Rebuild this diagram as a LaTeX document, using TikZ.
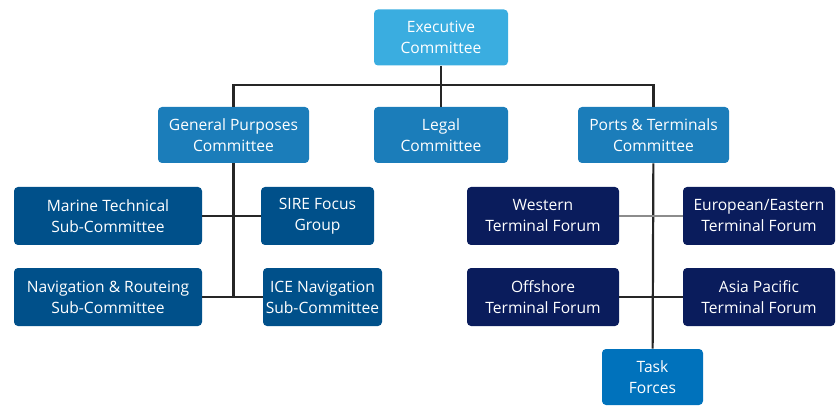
\documentclass[tikz,border=0pt]{standalone}
\usepackage{fontspec}
\setmainfont{Open Sans}
\definecolor{EXlight}{HTML}{3AADE0}
\definecolor{CMmid}{HTML}{1B7DBA}
\definecolor{SCdark}{HTML}{00508A}
\definecolor{TFnavy}{HTML}{0A1C5C}
\definecolor{TKblue}{HTML}{0072BC}
\usetikzlibrary{positioning}

\begin{document}
\begin{tikzpicture}[x=0.5pt,y=-0.5pt,
    box/.style={rounded corners=2pt,text=white,align=center,inner sep=0pt,
      font=\fontsize{7.8}{10.5}\selectfont,minimum height=28pt},
    link/.style={line width=1.1pt,draw=black!85}]
  \useasboundingbox (0,0) rectangle (840,406);
  \node[box,fill=EXlight,minimum width=67pt] (exec) at (441,37.5) {Executive\\Committee};
  \node[box,fill=CMmid,minimum width=75.5pt] (gp) at (233.5,135) {General Purposes\\Committee};
  \node[box,fill=CMmid,minimum width=67pt] (legal) at (441,135) {Legal\\Committee};
  \node[box,fill=CMmid,minimum width=75.5pt] (ports) at (653.5,135) {Ports \& Terminals\\Committee};
  \node[box,fill=SCdark,minimum width=94pt,minimum height=29pt] (marine) at (108,216) {Marine Technical\\Sub-Committee};
  \node[box,fill=SCdark,minimum width=56.5pt,minimum height=29pt] (sire) at (317.5,216) {SIRE Focus\\Group};
  \node[box,fill=SCdark,minimum width=94pt,minimum height=29pt] (navr) at (108,297) {Navigation \& Routeing\\Sub-Committee};
  \node[box,fill=SCdark,minimum width=59.5pt,minimum height=29pt] (ice) at (322.5,297) {ICE Navigation\\Sub-Committee};
  \node[box,fill=TFnavy,minimum width=76pt,minimum height=29pt] (western) at (543,216) {Western\\Terminal Forum};
  \node[box,fill=TFnavy,minimum width=76pt,minimum height=29pt] (european) at (759,216) {European/Eastern\\Terminal Forum};
  \node[box,fill=TFnavy,minimum width=76pt,minimum height=29pt] (offshore) at (543,297) {Offshore\\Terminal Forum};
  \node[box,fill=TFnavy,minimum width=76pt,minimum height=29pt] (asia) at (759,297) {Asia Pacific\\Terminal Forum};
  \node[box,fill=TKblue,minimum width=50.5pt] (task) at (652.5,377) {Task\\Forces};
  \coordinate (hub) at (441,85);
  % top level
  \draw[link] (exec) -- (legal);
  \draw[link] (gp) |- (hub) -| (ports);
  % general purposes branch
  \draw[link] (gp.south) -- (gp.south |- navr.east);
  \draw[link] (marine.east) -- (sire.west);
  \draw[link] (navr.east) -- (ice.west);
  % ports branch
  \draw[link] (ports) -- (task);
  \draw[link,draw=black!45] (western.east) -- (european.west);
  \draw[link] (offshore.east) -- (asia.west);
\end{tikzpicture}
\end{document}
